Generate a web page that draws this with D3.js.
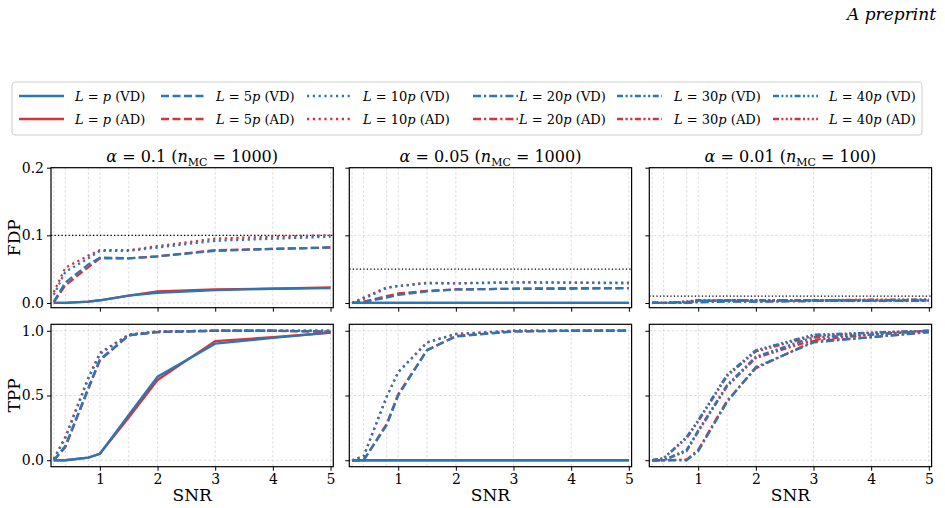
<!DOCTYPE html>
<meta charset="utf-8">
<style>
body { margin: 0; background: white; }
svg text { fill: #000; }
.grid line { stroke: #d4d4d4; stroke-width: 0.8px; stroke-dasharray: 2.5 2; }
.axis path { display: none; }
.axis line { stroke: #000; stroke-width: 1px; }
.axis text { font-size: 14px; font-family: "DejaVu Serif", "Liberation Serif", serif; }
.frame { fill: none; stroke: #000; stroke-width: 1.2px; }
.thresh { stroke: #000; stroke-width: 1.3px; stroke-dasharray: 1.3 2.2; }
.series { fill: none; stroke-width: 2.3px; }
</style>
<svg font-family="'DejaVu Serif', 'Liberation Serif', serif"></svg>
<script src="https://cdn.jsdelivr.net/npm/d3@7"></script>
<script>

var width = 945;
var height = 508;

// SNR grid used in every panel
var snr = [0.2, 0.4, 0.8, 1, 1.5, 2, 3, 4, 5];
var alphas = [0.1, 0.05, 0.01];
var nMC = [1000, 1000, 100];
var xTicks = [1, 2, 3, 4, 5];
var fdpTicks = [0, 0.1, 0.2];
var tppTicks = [0, 0.5, 1];

// FDP, alpha = 0.1
var fdp1_p_VD   = [0, 0, 0.002, 0.004, 0.011, 0.015, 0.019, 0.021, 0.022];
var fdp1_p_AD   = [0, 0, 0.002, 0.004, 0.011, 0.017, 0.020, 0.021, 0.023];
var fdp1_5p_VD  = [0.002, 0.030, 0.057, 0.067, 0.066, 0.069, 0.077, 0.080, 0.082];
var fdp1_5p_AD  = [0.001, 0.026, 0.053, 0.066, 0.066, 0.069, 0.078, 0.080, 0.082];
var fdp1_10p_VD = [0.012, 0.046, 0.066, 0.077, 0.077, 0.082, 0.092, 0.095, 0.098];
var fdp1_10p_AD = [0.016, 0.052, 0.070, 0.078, 0.078, 0.084, 0.095, 0.098, 0.100];
// FDP, alpha = 0.05
var fdp2_p_VD   = [0, 0, 0, 0, 0, 0, 0, 0, 0];
var fdp2_p_AD   = [0, 0, 0, 0, 0, 0, 0, 0, 0];
var fdp2_5p_VD  = [0, 0.001, 0.008, 0.012, 0.017, 0.020, 0.021, 0.021, 0.022];
var fdp2_5p_AD  = [0, 0.002, 0.010, 0.014, 0.018, 0.020, 0.021, 0.022, 0.022];
var fdp2_10p_VD = [0, 0.006, 0.022, 0.025, 0.029, 0.029, 0.030, 0.030, 0.029];
var fdp2_10p_AD = [0, 0.008, 0.023, 0.025, 0.030, 0.029, 0.031, 0.030, 0.030];
// FDP, alpha = 0.01
var fdp3_20p_VD = [0, 0, 0, 0.001, 0.002, 0.002, 0.003, 0.003, 0.003];
var fdp3_20p_AD = [0, 0, 0, 0.002, 0.003, 0.002, 0.003, 0.003, 0.004];
var fdp3_30p_VD = [0, 0, 0.001, 0.003, 0.003, 0.004, 0.003, 0.004, 0.004];
var fdp3_30p_AD = [0, 0, 0.001, 0.003, 0.004, 0.004, 0.004, 0.004, 0.004];
var fdp3_40p_VD = [0, 0, 0.002, 0.004, 0.004, 0.003, 0.004, 0.004, 0.005];
var fdp3_40p_AD = [0, 0, 0.002, 0.004, 0.004, 0.004, 0.004, 0.005, 0.005];

// TPP, alpha = 0.1
var tpp1_p_VD   = [0, 0, 0.02, 0.05, 0.35, 0.645, 0.90, 0.945, 0.985];
var tpp1_p_AD   = [0, 0, 0.02, 0.05, 0.33, 0.62, 0.92, 0.95, 0.985];
var tpp1_5p_VD  = [0, 0.11, 0.56, 0.78, 0.965, 0.99, 1.0, 1.0, 0.995];
var tpp1_5p_AD  = [0, 0.10, 0.55, 0.77, 0.965, 0.99, 1.0, 1.0, 0.99];
var tpp1_10p_VD = [0.01, 0.17, 0.63, 0.82, 0.97, 0.995, 1.0, 1.0, 1.0];
var tpp1_10p_AD = [0.01, 0.18, 0.64, 0.83, 0.97, 0.995, 1.0, 1.0, 1.0];
// TPP, alpha = 0.05
var tpp2_p_VD   = [0, 0, 0, 0, 0, 0, 0, 0, 0];
var tpp2_p_AD   = [0, 0, 0, 0, 0, 0, 0, 0, 0];
var tpp2_5p_VD  = [0, 0, 0.27, 0.50, 0.85, 0.955, 0.995, 1.0, 1.0];
var tpp2_5p_AD  = [0, 0, 0.28, 0.51, 0.85, 0.96, 0.995, 1.0, 1.0];
var tpp2_10p_VD = [0, 0.03, 0.49, 0.68, 0.91, 0.975, 1.0, 1.0, 1.0];
var tpp2_10p_AD = [0, 0.03, 0.49, 0.68, 0.91, 0.975, 1.0, 1.0, 1.0];
// TPP, alpha = 0.01
var tpp3_20p_VD = [0, 0, 0, 0.07, 0.45, 0.72, 0.91, 0.95, 0.99];
var tpp3_20p_AD = [0, 0, 0.005, 0.08, 0.46, 0.71, 0.92, 0.95, 0.99];
var tpp3_30p_VD = [0, 0, 0.08, 0.23, 0.58, 0.80, 0.95, 0.97, 1.0];
var tpp3_30p_AD = [0, 0, 0.07, 0.22, 0.57, 0.79, 0.93, 0.97, 1.0];
var tpp3_40p_VD = [0, 0.015, 0.18, 0.31, 0.66, 0.85, 0.97, 0.985, 1.0];
var tpp3_40p_AD = [0, 0.015, 0.17, 0.30, 0.65, 0.84, 0.96, 0.985, 1.0];

var blue = '#2a77b5';
var red = '#d8333a';

var lineStyles = {
  'p': null,
  '5p': '8 3.5',
  '10p': '2.2 3.6',
  '20p': '8 3 2.2 3',
  '30p': '6 2.5 2.2 2.5 2.2 2.5',
  '40p': '6 2.4 2 2.4 2 2.4 2 2.4'
};

// series per panel (AD drawn first, VD on top)
var fdpSeries = [
  [['p', 'AD', fdp1_p_AD], ['p', 'VD', fdp1_p_VD], ['5p', 'AD', fdp1_5p_AD], ['5p', 'VD', fdp1_5p_VD], ['10p', 'AD', fdp1_10p_AD], ['10p', 'VD', fdp1_10p_VD]],
  [['p', 'AD', fdp2_p_AD], ['p', 'VD', fdp2_p_VD], ['5p', 'AD', fdp2_5p_AD], ['5p', 'VD', fdp2_5p_VD], ['10p', 'AD', fdp2_10p_AD], ['10p', 'VD', fdp2_10p_VD]],
  [['20p', 'AD', fdp3_20p_AD], ['20p', 'VD', fdp3_20p_VD], ['30p', 'AD', fdp3_30p_AD], ['30p', 'VD', fdp3_30p_VD], ['40p', 'AD', fdp3_40p_AD], ['40p', 'VD', fdp3_40p_VD]]
];
var tppSeries = [
  [['p', 'AD', tpp1_p_AD], ['p', 'VD', tpp1_p_VD], ['5p', 'AD', tpp1_5p_AD], ['5p', 'VD', tpp1_5p_VD], ['10p', 'AD', tpp1_10p_AD], ['10p', 'VD', tpp1_10p_VD]],
  [['p', 'AD', tpp2_p_AD], ['p', 'VD', tpp2_p_VD], ['5p', 'AD', tpp2_5p_AD], ['5p', 'VD', tpp2_5p_VD], ['10p', 'AD', tpp2_10p_AD], ['10p', 'VD', tpp2_10p_VD]],
  [['20p', 'AD', tpp3_20p_AD], ['20p', 'VD', tpp3_20p_VD], ['30p', 'AD', tpp3_30p_AD], ['30p', 'VD', tpp3_30p_VD], ['40p', 'AD', tpp3_40p_AD], ['40p', 'VD', tpp3_40p_VD]]
];

var svg = d3.select('svg')
  .attr('width', width)
  .attr('height', height);

var colLeft = [51, 349.3, 649.3];
var colWidth = 282.3;
var rows = [
  { top: 167.7, bottom: 307.7, domain: [-0.007, 0.2], ticks: fdpTicks, series: fdpSeries, label: 'FDP' },
  { top: 324.3, bottom: 466.7, domain: [-0.05, 1.05], ticks: tppTicks, series: tppSeries, label: 'TPP' }
];

svg.append('text')
  .attr('x', 936)
  .attr('y', 20)
  .attr('text-anchor', 'end')
  .style('font-style', 'italic')
  .style('font-size', '17px')
  .text('A preprint');

rows.forEach(function (row, ri) {
  var y = d3.scaleLinear().domain(row.domain).range([row.bottom, row.top]);

  svg.append('text')
    .attr('transform', 'translate(20,' + y((row.domain[0] + row.domain[1]) / 2) + ') rotate(-90)')
    .attr('text-anchor', 'middle')
    .style('font-size', '17px')
    .text(row.label);

  colLeft.forEach(function (x0, ci) {
    var x = d3.scaleLinear().domain([0.152, 5.048]).range([x0, x0 + colWidth]);
    var g = svg.append('g');

    var grid = g.append('g').attr('class', 'grid');
    grid.selectAll('line.v')
      .data(snr)
      .enter().append('line')
      .attr('class', 'v')
      .attr('x1', function (d) { return x(d); })
      .attr('x2', function (d) { return x(d); })
      .attr('y1', row.top)
      .attr('y2', row.bottom);
    grid.selectAll('line.h')
      .data(row.ticks)
      .enter().append('line')
      .attr('class', 'h')
      .attr('x1', x0)
      .attr('x2', x0 + colWidth)
      .attr('y1', function (d) { return y(d); })
      .attr('y2', function (d) { return y(d); });

    if (ri === 0) {
      g.append('line')
        .attr('class', 'thresh')
        .attr('x1', x0)
        .attr('x2', x0 + colWidth)
        .attr('y1', y(alphas[ci]))
        .attr('y2', y(alphas[ci]));
    }

    var line = d3.line()
      .x(function (d, i) { return x(snr[i]); })
      .y(function (d) { return y(d); });

    g.append('g').selectAll('path')
      .data(row.series[ci])
      .enter().append('path')
      .attr('class', 'series')
      .attr('d', function (d) { return line(d[2]); })
      .attr('stroke', function (d) { return d[1] === 'VD' ? blue : red; })
      .attr('stroke-dasharray', function (d) { return lineStyles[d[0]]; });

    g.append('rect')
      .attr('class', 'frame')
      .attr('x', x0)
      .attr('y', row.top)
      .attr('width', colWidth)
      .attr('height', row.bottom - row.top);

    g.append('g')
      .attr('class', 'axis')
      .attr('transform', 'translate(0,' + row.bottom + ')')
      .call(d3.axisBottom(x).tickValues(xTicks).tickSize(4).tickPadding(3)
        .tickFormat(ri === 1 ? d3.format('d') : function () { return ''; }));

    g.append('g')
      .attr('class', 'axis')
      .attr('transform', 'translate(' + x0 + ',0)')
      .call(d3.axisLeft(y).tickValues(row.ticks).tickSize(4).tickPadding(3)
        .tickFormat(ci === 0 ? d3.format('.1f') : function () { return ''; }));

    if (ri === 0) {
      var t = svg.append('text')
        .attr('x', x0 + colWidth / 2)
        .attr('y', 162)
        .attr('text-anchor', 'middle')
        .style('font-size', '16px');
      t.append('tspan').style('font-style', 'italic').text('α');
      t.append('tspan').text(' = ' + alphas[ci] + ' (');
      t.append('tspan').style('font-style', 'italic').text('n');
      t.append('tspan').attr('dy', 4).style('font-size', '11px').text('MC');
      t.append('tspan').attr('dy', -4).text(' = ' + nMC[ci] + ')');
    } else {
      svg.append('text')
        .attr('x', x0 + colWidth / 2)
        .attr('y', 501)
        .attr('text-anchor', 'middle')
        .style('font-size', '17px')
        .text('SNR');
    }
  });
});

// legend
var legendL = ['p', '5p', '10p', '20p', '30p', '40p'];
var legendMethods = ['VD', 'AD'];
var legendLineX = [19, 161, 307, 473, 617, 773];
var legendTextX = [75, 216, 363, 519, 674, 829];
var legendRowY = [96, 119];

var legend = svg.append('g');
legend.append('rect')
  .attr('x', 12)
  .attr('y', 82)
  .attr('width', 910)
  .attr('height', 53)
  .attr('rx', 3)
  .attr('fill', 'white')
  .attr('stroke', '#cfcfcf')
  .attr('stroke-width', 1);

legendMethods.forEach(function (m, mi) {
  legendL.forEach(function (l, li) {
    var yy = legendRowY[mi];
    legend.append('line')
      .attr('class', 'series')
      .attr('x1', legendLineX[li])
      .attr('x2', legendLineX[li] + 45)
      .attr('y1', yy)
      .attr('y2', yy)
      .attr('stroke', m === 'VD' ? blue : red)
      .attr('stroke-dasharray', lineStyles[l]);
    var t = legend.append('text')
      .attr('x', legendTextX[li])
      .attr('y', yy + 5)
      .style('font-size', '13px');
    t.append('tspan').style('font-style', 'italic').text('L');
    t.append('tspan').text(' = ' + l.replace('p', ''));
    t.append('tspan').style('font-style', 'italic').text('p');
    t.append('tspan').text(' (' + m + ')');
  });
});

</script>
